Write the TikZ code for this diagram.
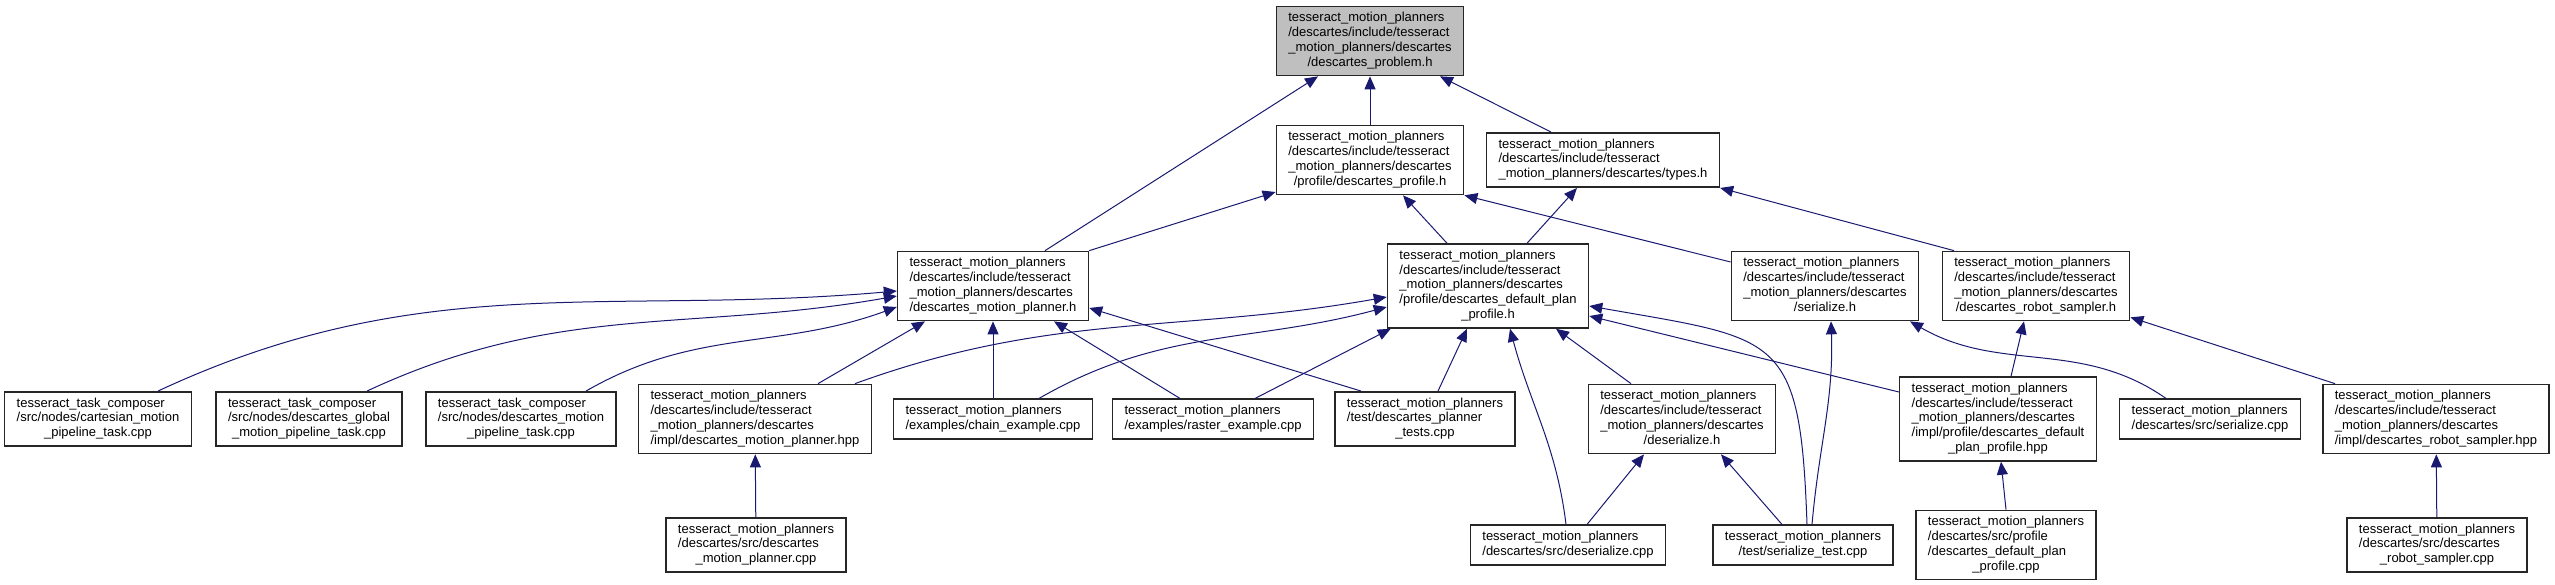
\documentclass[tikz,border=0pt]{standalone}
\usepackage{fontspec}
\setmainfont{Liberation Sans}
\usepackage{tikz}
\usetikzlibrary{arrows.meta}
\definecolor{midnight}{HTML}{191970}
\newcommand{\tmpinc}{tesseract\_motion\_planners\\/descartes/include/tesseract\\\_motion\_planners/descartes}
\newcommand{\flab}[2]{\begin{tabular}{@{}l@{}}#1\\\multicolumn{1}{@{}c@{}}{#2}\end{tabular}}
\tikzset{
  file/.style={rectangle, draw=black!85, line width=1.5pt, fill=white, inner xsep=12pt, inner ysep=5pt, font=\fontsize{13}{14.8}\selectfont},
  focus/.style={file, fill=black!25},
  dep/.style={draw=midnight, line width=1pt, -{Triangle[length=13pt,width=11pt]}}
}

\begin{document}
\begin{tikzpicture}[x=1pt, y=1pt]
    \useasboundingbox (0,0) rectangle (2555,-585);

    \node[focus] (problem) at (1370,-41) {\flab{\tmpinc}{/descartes\_problem.h}};

    \node[file] (profile) at (1370,-160) {\flab{\tmpinc}{/profile/descartes\_profile.h}};
    \node[file] (types) at (1603,-160) {\flab{tesseract\_motion\_planners\\/descartes/include/tesseract}{\_motion\_planners/descartes/types.h}};

    \node[file] (planner) at (993,-286) {\flab{\tmpinc}{/descartes\_motion\_planner.h}};
    \node[file] (defplan) at (1488,-286) {\flab{\tmpinc\\/profile/descartes\_default\_plan}{\_profile.h}};
    \node[file] (serialize) at (1825,-286) {\flab{\tmpinc}{/serialize.h}};
    \node[file] (sampler) at (2036,-286) {\flab{\tmpinc}{/descartes\_robot\_sampler.h}};

    \node[file] (cartesian) at (98,-419) {\flab{tesseract\_task\_composer\\/src/nodes/cartesian\_motion}{\_pipeline\_task.cpp}};
    \node[file] (globalt) at (309,-419) {\flab{tesseract\_task\_composer\\/src/nodes/descartes\_global}{\_motion\_pipeline\_task.cpp}};
    \node[file] (pipeline) at (521,-419) {\flab{tesseract\_task\_composer\\/src/nodes/descartes\_motion}{\_pipeline\_task.cpp}};
    \node[file] (implplanner) at (755,-419) {\flab{\tmpinc}{/impl/descartes\_motion\_planner.hpp}};
    \node[file] (chain) at (993,-419) {\flab{tesseract\_motion\_planners}{/examples/chain\_example.cpp}};
    \node[file] (raster) at (1213,-419) {\flab{tesseract\_motion\_planners}{/examples/raster\_example.cpp}};
    \node[file] (tests) at (1425,-419) {\flab{tesseract\_motion\_planners\\/test/descartes\_planner}{\_tests.cpp}};
    \node[file] (deserialize) at (1682,-419) {\flab{\tmpinc}{/deserialize.h}};
    \node[file] (impldef) at (1998,-419) {\flab{\tmpinc\\/impl/profile/descartes\_default}{\_plan\_profile.hpp}};
    \node[file] (serializecpp) at (2210,-419) {\flab{tesseract\_motion\_planners}{/descartes/src/serialize.cpp}};
    \node[file] (implsampler) at (2436,-419) {\flab{\tmpinc}{/impl/descartes\_robot\_sampler.hpp}};

    \node[file] (plannercpp) at (756,-545) {\flab{tesseract\_motion\_planners\\/descartes/src/descartes}{\_motion\_planner.cpp}};
    \node[file] (deserializecpp) at (1568,-545) {\flab{tesseract\_motion\_planners}{/descartes/src/deserialize.cpp}};
    \node[file] (serializetest) at (1803,-545) {\flab{tesseract\_motion\_planners}{/test/serialize\_test.cpp}};
    \node[file] (defplancpp) at (2006,-545) {\flab{tesseract\_motion\_planners\\/descartes/src/profile\\/descartes\_default\_plan}{\_profile.cpp}};
    \node[file] (samplercpp) at (2437,-545) {\flab{tesseract\_motion\_planners\\/descartes/src/descartes}{\_robot\_sampler.cpp}};

    % includes
    \draw[dep] ([xshift=52pt]planner.north) -- ([xshift=-52pt]problem.south);
    \draw[dep] (profile) -- (problem);
    \draw[dep] ([xshift=-52pt]types.north) -- ([xshift=70pt]problem.south);

    \draw[dep] (planner.north east) -- ([yshift=-32pt]profile.west);
    \draw[dep] ([xshift=-41pt]defplan.north) -- ([xshift=33pt]profile.south);
    \draw[dep] ([xshift=39pt]defplan.north) -- ([xshift=-26pt]types.south);
    \draw[dep] ([yshift=24pt]serialize.west) -- (profile.south east);
    \draw[dep] ([xshift=-82pt]sampler.north) -- (types.south east);

    \draw[dep] ([xshift=60pt]cartesian.north) to[out=25,in=185] ([yshift=-5pt]planner.west);
    \draw[dep] ([xshift=58pt]globalt.north) to[out=25,in=190] ([yshift=-10pt]planner.west);
    \draw[dep] ([xshift=65pt]pipeline.north) to[out=30,in=200] ([yshift=-21pt]planner.west);
    \draw[dep] ([xshift=63pt]implplanner.north) -- ([xshift=-68pt]planner.south);
    \draw[dep] ([xshift=100pt]implplanner.north) to[out=20,in=190] ([yshift=-11pt]defplan.west);
    \draw[dep] (chain) -- (planner);
    \draw[dep] ([xshift=46pt]chain.north) to[out=30,in=195] ([yshift=-21pt]defplan.west);
    \draw[dep] ([xshift=-33pt]raster.north) -- ([xshift=61pt]planner.south);
    \draw[dep] ([xshift=42pt]raster.north) -- ([xshift=4pt]defplan.south west);
    \draw[dep] ([xshift=-64pt]tests.north) -- ([yshift=-22pt]planner.east);
    \draw[dep] ([xshift=13pt]tests.north) -- ([xshift=-21pt]defplan.south);
    \draw[dep] ([xshift=-2pt]deserializecpp.north) to[out=97,in=-75] ([xshift=22pt]defplan.south);
    \draw[dep] ([xshift=-51pt]deserialize.north) -- ([xshift=68pt]defplan.south);
    \draw[dep] ([xshift=4pt]serializetest.north) to[out=92,in=-10,looseness=1.6] ([yshift=-20pt]defplan.east);
    \draw[dep] ([xshift=9pt]serializetest.north) to[out=85,in=-88] ([xshift=6pt]serialize.south);
    \draw[dep] ([xshift=-21pt]serializetest.north) -- ([xshift=39pt]deserialize.south);
    \draw[dep] ([xshift=19pt]deserializecpp.north) -- ([xshift=-38pt]deserialize.south);
    \draw[dep] ([yshift=27pt]impldef.west) -- ([yshift=-30pt]defplan.east);
    \draw[dep] ([xshift=13pt]impldef.north) -- ([xshift=-12pt]sampler.south);
    \draw[dep] ([xshift=-44pt]serializecpp.north) to[out=145,in=-30] ([xshift=85pt]serialize.south);
    \draw[dep] ([xshift=-101pt]implsampler.north) -- ([yshift=4pt]sampler.south east);

    \draw[dep] (plannercpp) -- (implplanner);
    \draw[dep] (defplancpp.north) -- ([xshift=3pt]impldef.south);
    \draw[dep] (samplercpp) -- (implsampler);

\end{tikzpicture}
\end{document}
